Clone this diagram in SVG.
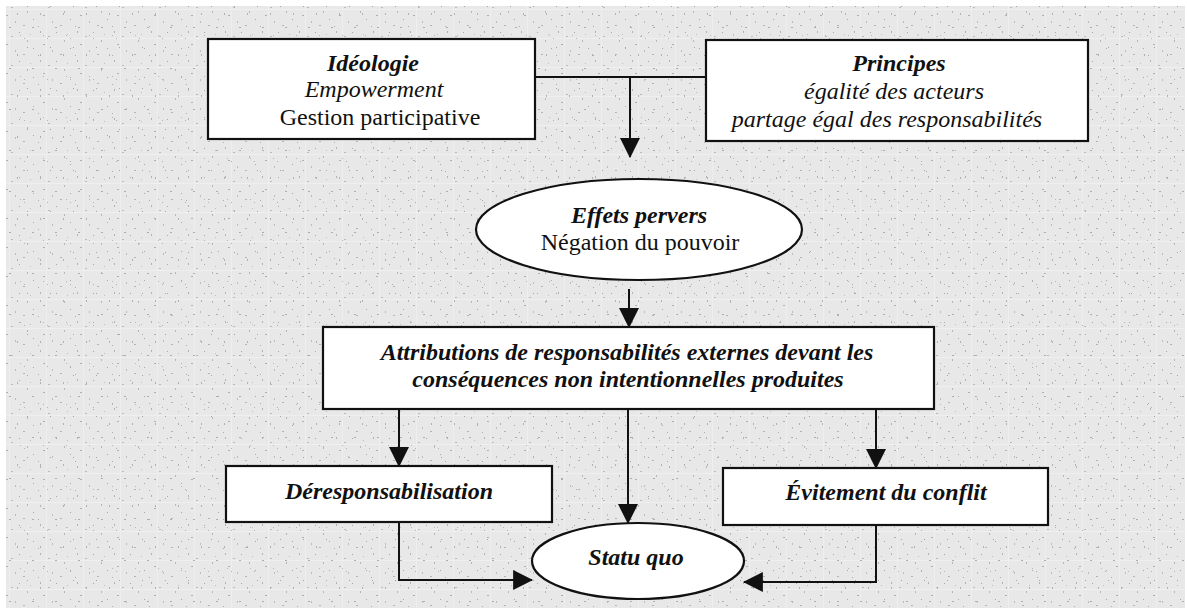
<svg xmlns="http://www.w3.org/2000/svg" width="1187" height="610" viewBox="0 0 1187 610">
  <style>
    .box { fill: #ffffff; stroke: #111111; stroke-width: 2.2; }
    .wire { fill: none; stroke: #111111; stroke-width: 2; }
    .t { font-family: "Liberation Serif", "Times New Roman", serif; font-size: 24px; fill: #111111; text-anchor: middle; }
    .bi { font-weight: bold; font-style: italic; }
    .it { font-style: italic; }
  </style>
  <defs>
    <marker id="head" markerUnits="userSpaceOnUse" markerWidth="20" markerHeight="20" viewBox="0 0 18 18" refX="17" refY="9" orient="auto">
      <path d="M0,0 L18,9 L0,18 Z" fill="#111111"/>
    </marker>
    <!-- speckled paper texture -->
    <pattern id="grainA" width="37" height="29" patternUnits="userSpaceOnUse">
      <rect width="37" height="29" fill="#e8e8e8"/>
      <rect x="3" y="2" width="1" height="2" fill="#b3b3b3"/>
      <rect x="11" y="7" width="2" height="1" fill="#bcbcbc"/>
      <rect x="19" y="3" width="1" height="1" fill="#a9a9a9"/>
      <rect x="27" y="11" width="1" height="2" fill="#b6b6b6"/>
      <rect x="6" y="15" width="2" height="1" fill="#b0b0b0"/>
      <rect x="33" y="19" width="1" height="1" fill="#aaaaaa"/>
      <rect x="15" y="21" width="1" height="2" fill="#bdbdbd"/>
      <rect x="23" y="25" width="2" height="1" fill="#b4b4b4"/>
      <rect x="1" y="26" width="1" height="1" fill="#acacac"/>
      <rect x="30" y="5" width="1" height="1" fill="#c0c0c0"/>
      <rect x="0" y="9" width="37" height="1" fill="#efefef"/>
      <rect x="9" y="0" width="1" height="29" fill="#eeeeee"/>
    </pattern>
    <pattern id="grainB" width="23" height="41" patternUnits="userSpaceOnUse">
      <rect x="4" y="6" width="1" height="1" fill="#a6a6a6"/>
      <rect x="17" y="13" width="1" height="2" fill="#b1b1b1"/>
      <rect x="9" y="27" width="2" height="1" fill="#adadad"/>
      <rect x="20" y="35" width="1" height="1" fill="#b8b8b8"/>
      <rect x="1" y="38" width="1" height="1" fill="#b2b2b2"/>
    </pattern>
  </defs>

  <!-- page -->
  <rect width="1187" height="610" fill="#ffffff"/>
  <rect x="6" y="6" width="1179" height="602" fill="url(#grainA)"/>
  <rect x="6" y="6" width="1179" height="602" fill="url(#grainB)"/>

  <!-- connectors -->
  <g id="connectors">
    <path class="wire" d="M535,77 H706"/>
    <path class="wire" d="M630,77 V157" marker-end="url(#head)"/>
    <path class="wire" d="M629,289 V327" marker-end="url(#head)"/>
    <path class="wire" d="M399,409 V466" marker-end="url(#head)"/>
    <path class="wire" d="M628,409 V523" marker-end="url(#head)"/>
    <path class="wire" d="M876,410 V468" marker-end="url(#head)"/>
    <path class="wire" d="M399,522 V580 H532" marker-end="url(#head)"/>
    <path class="wire" d="M876,525 V582 H744" marker-end="url(#head)"/>
  </g>

  <g id="ideologie">
    <rect class="box" x="208" y="39" width="327" height="100"/>
    <text class="t bi" x="373" y="71">Idéologie</text>
    <text class="t it" x="374" y="97">Empowerment</text>
    <text class="t" x="380" y="125">Gestion participative</text>
  </g>

  <g id="principes">
    <rect class="box" x="706" y="40" width="382" height="101"/>
    <text class="t bi" x="899" y="71">Principes</text>
    <text class="t it" x="894" y="99">égalité des acteurs</text>
    <text class="t it" x="887" y="127">partage égal des responsabilités</text>
  </g>

  <g id="effets-pervers">
    <ellipse class="box" cx="639" cy="229.5" rx="163" ry="50.5"/>
    <text class="t bi" x="639" y="223">Effets pervers</text>
    <text class="t" x="640" y="250">Négation du pouvoir</text>
  </g>

  <g id="attributions">
    <rect class="box" x="323" y="327" width="611" height="82"/>
    <text class="t bi" x="627" y="360">Attributions de responsabilités externes devant les</text>
    <text class="t bi" x="628" y="387">conséquences non intentionnelles produites</text>
  </g>

  <g id="deresponsabilisation">
    <rect class="box" x="226" y="466" width="326" height="56"/>
    <text class="t bi" x="389" y="499">Déresponsabilisation</text>
  </g>

  <g id="evitement">
    <rect class="box" x="723" y="468" width="325" height="57"/>
    <text class="t bi" x="886" y="500">Évitement du conflit</text>
  </g>

  <g id="statu-quo">
    <ellipse class="box" cx="638" cy="561" rx="106" ry="38"/>
    <text class="t bi" x="636" y="565">Statu quo</text>
  </g>
</svg>
